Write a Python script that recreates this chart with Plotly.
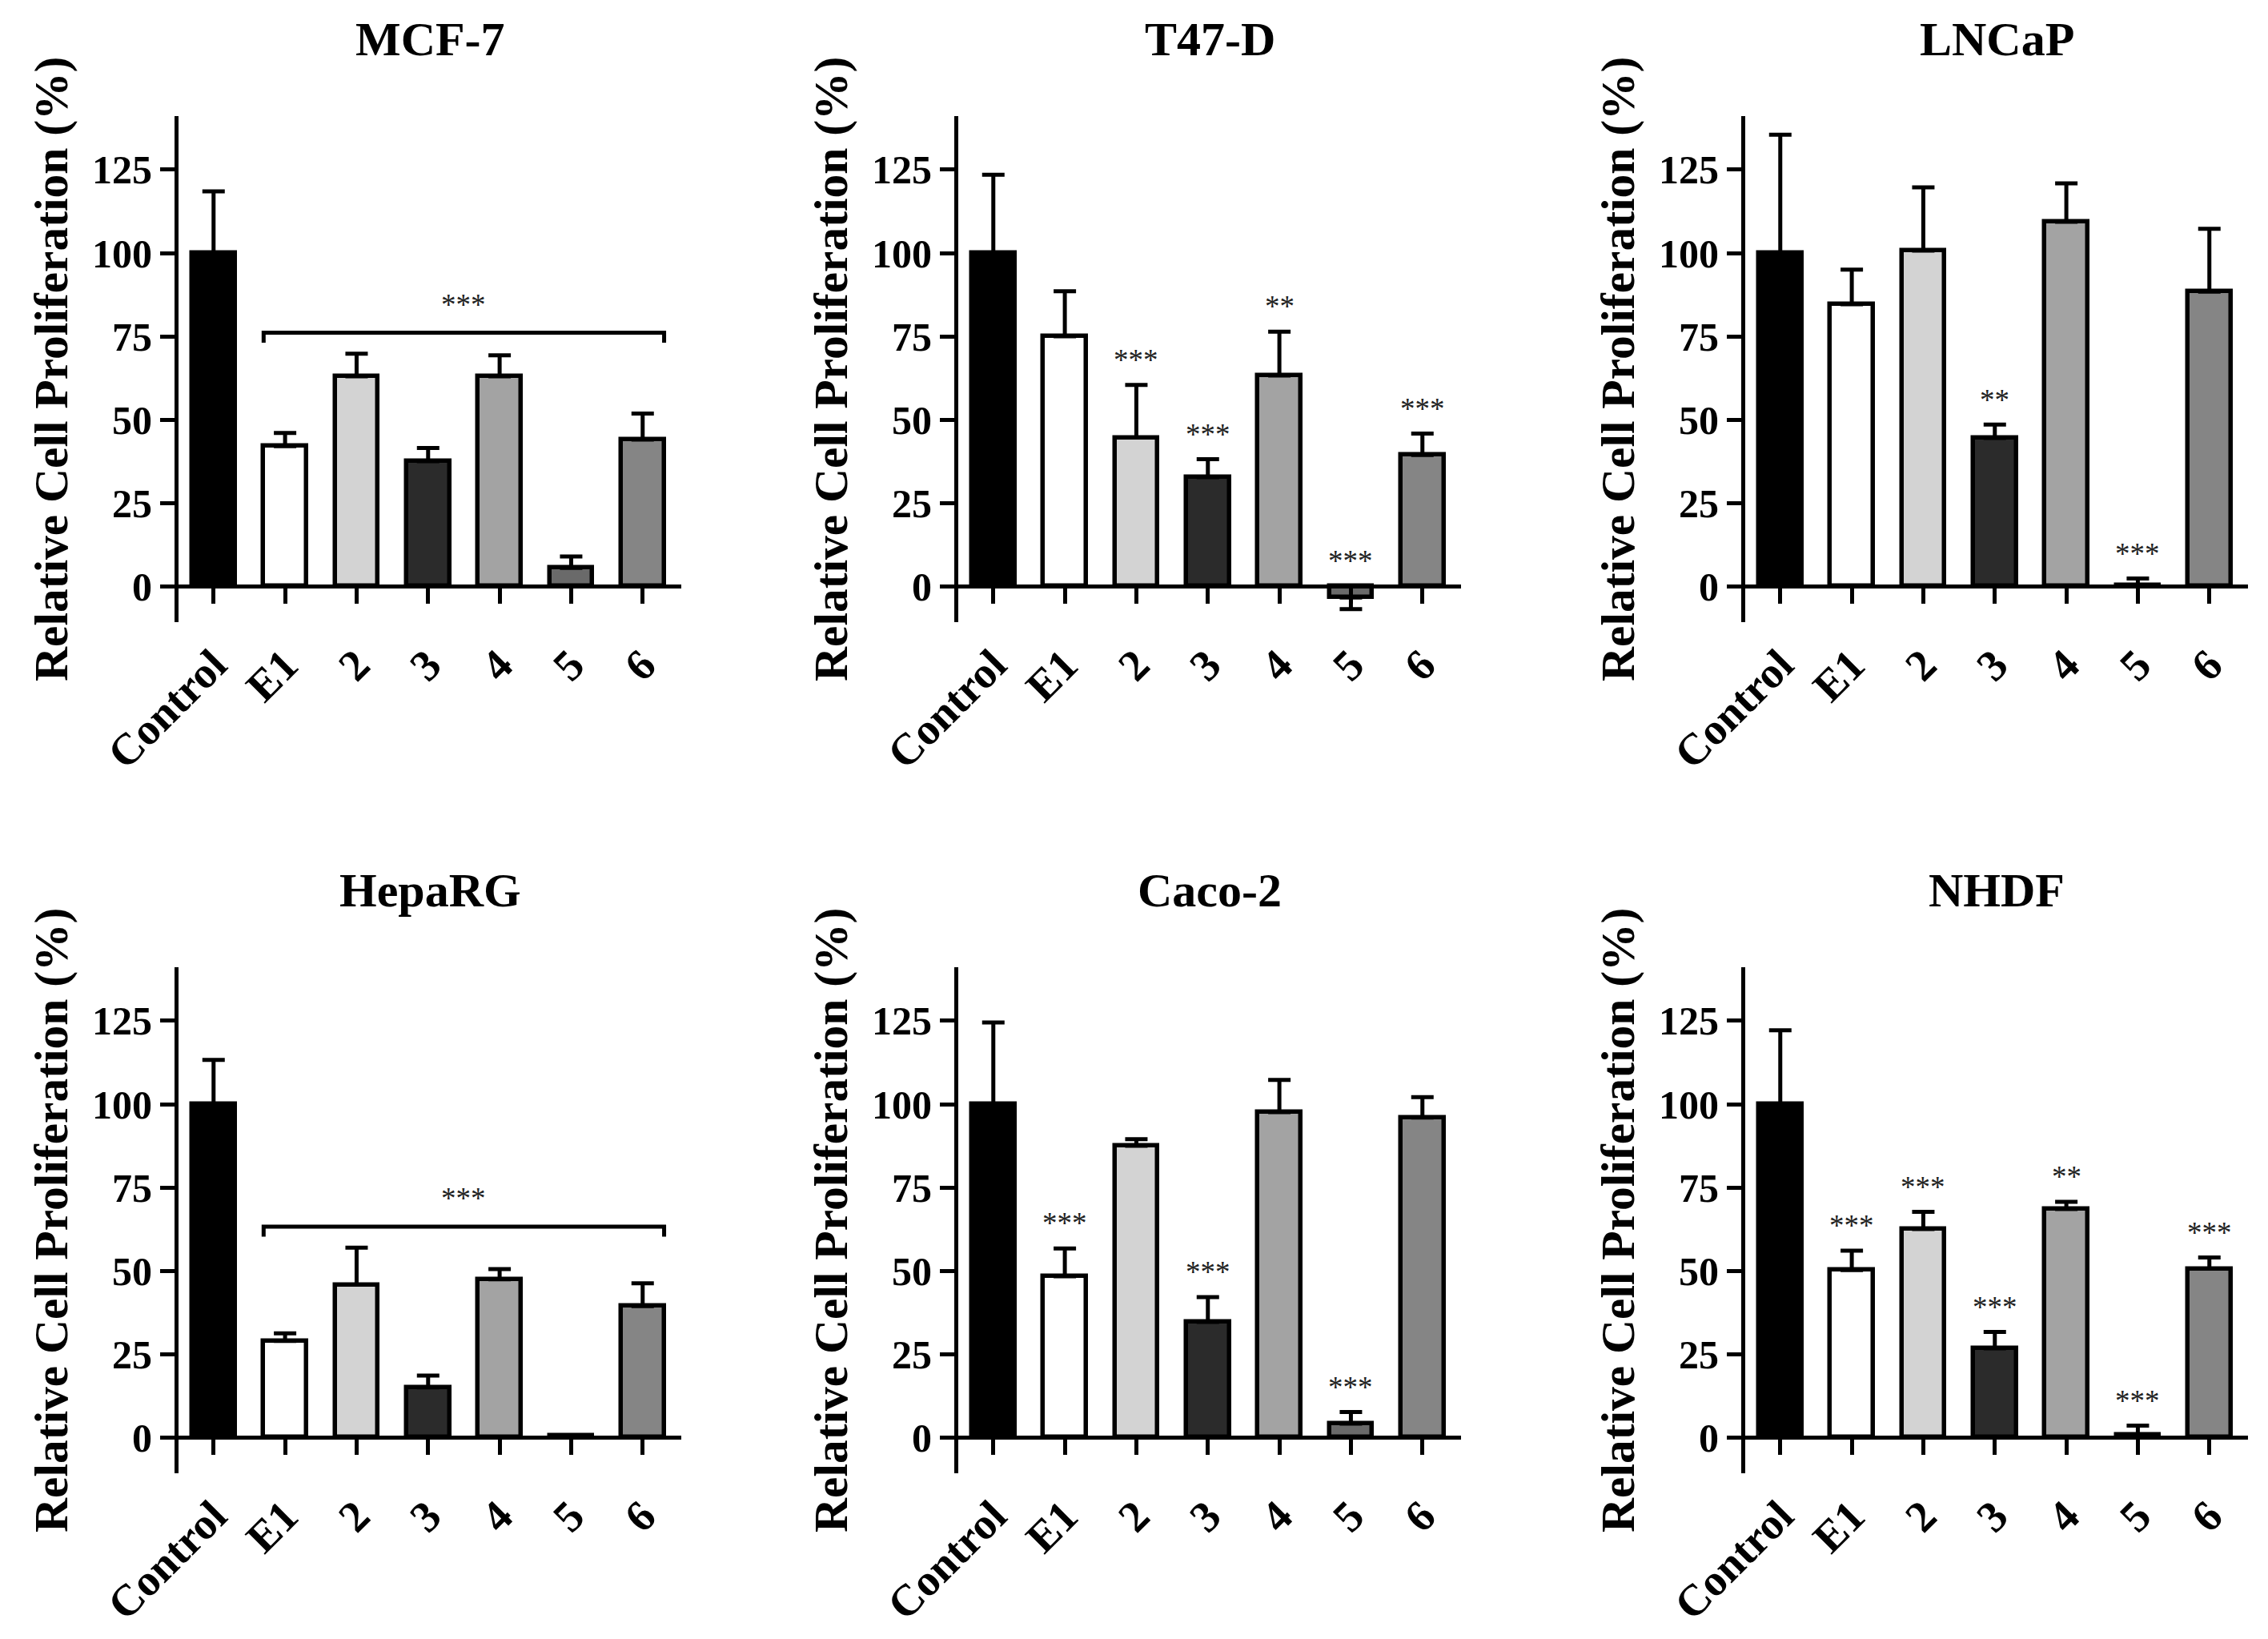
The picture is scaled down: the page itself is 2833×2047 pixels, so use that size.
import plotly.graph_objects as go

# ---------------- data ----------------
categories = ["Control", "E1", "2", "3", "4", "5", "6"]
panel_titles = ["MCF-7", "T47-D", "LNCaP", "HepaRG", "Caco-2", "NHDF"]
y_ticks = [0, 25, 50, 75, 100, 125]

mcf7_mean = [100, 42.0, 63.0, 37.5, 63.0, 5.5, 44.0]
mcf7_sd = [18.5, 4.0, 6.8, 4.0, 6.3, 3.4, 7.8]
mcf7_sig = ["", "", "", "", "", "", ""]
mcf7_bracket = ("E1", "6", "***")

t47d_mean = [100, 75.0, 44.6, 32.7, 63.2, -3.4, 39.4]
t47d_sd = [23.5, 13.5, 15.8, 5.4, 13.2, 3.5, 6.4]
t47d_sig = ["", "", "***", "***", "**", "***", "***"]

lncap_mean = [100, 84.6, 100.7, 44.5, 109.4, 0.3, 88.4]
lncap_sd = [35.5, 10.4, 19.0, 4.0, 11.5, 2.0, 18.9]
lncap_sig = ["", "", "", "**", "", "***", ""]

heparg_mean = [100, 28.9, 45.8, 15.0, 47.4, 0.5, 39.4]
heparg_sd = [13.3, 2.3, 11.1, 3.5, 3.1, 0.0, 6.8]
heparg_sig = ["", "", "", "", "", "", ""]
heparg_bracket = ("E1", "6", "***")

caco2_mean = [100, 48.3, 87.5, 34.6, 97.6, 4.1, 96.0]
caco2_sd = [24.5, 8.4, 2.0, 7.5, 9.7, 3.5, 6.1]
caco2_sig = ["", "***", "", "***", "", "***", ""]

nhdf_mean = [100, 50.2, 62.5, 26.7, 68.5, 0.8, 50.6]
nhdf_sd = [22.2, 5.8, 5.2, 4.9, 2.2, 2.7, 3.4]
nhdf_sig = ["", "***", "***", "***", "**", "***", "***"]

bar_colors = ["#000000", "#ffffff", "#d3d3d3", "#2b2b2b", "#a3a3a3", "#6a6a6a", "#858585"]

panels = [
    (panel_titles[0], mcf7_mean, mcf7_sd, mcf7_sig, mcf7_bracket),
    (panel_titles[1], t47d_mean, t47d_sd, t47d_sig, None),
    (panel_titles[2], lncap_mean, lncap_sd, lncap_sig, None),
    (panel_titles[3], heparg_mean, heparg_sd, heparg_sig, heparg_bracket),
    (panel_titles[4], caco2_mean, caco2_sd, caco2_sig, None),
    (panel_titles[5], nhdf_mean, nhdf_sd, nhdf_sig, None),
]

# ---------------- layout geometry ----------------
W, H = 2833, 2047
col_left = [223, 1197, 2180]
row_top = [145, 1208]
plot_w, plot_h = 628, 632
Y_RANGE = [-10.8, 141.1]
X_RANGE = [-0.49, 6.54]
BAR_W = 0.6

FONT = "Liberation Serif"
ytick_font = dict(family=FONT, size=50, color="black", weight="bold")
xtick_font = dict(family=FONT, size=55, color="black", weight="bold")

fig = go.Figure()
annotations = []
layout_axes = {}

for i, (title, means, sds, sig, bracket) in enumerate(panels):
    r, c = divmod(i, 3)
    n = i + 1
    xa = "x" if n == 1 else f"x{n}"
    ya = "y" if n == 1 else f"y{n}"
    xkey = "xaxis" if n == 1 else f"xaxis{n}"
    ykey = "yaxis" if n == 1 else f"yaxis{n}"

    left = col_left[c]
    top = row_top[r]
    x0, x1 = left / W, (left + plot_w) / W
    y1 = 1 - top / H
    y0 = 1 - (top + plot_h) / H
    zero_pos = y0 + (0 - Y_RANGE[0]) / (Y_RANGE[1] - Y_RANGE[0]) * (y1 - y0)

    xs = list(range(len(categories)))
    plus = [s if m >= 0 else 0 for m, s in zip(means, sds)]
    minus = [0 if m >= 0 else s for m, s in zip(means, sds)]

    fig.add_trace(go.Bar(
        x=xs, y=means, width=BAR_W,
        marker=dict(color=bar_colors, line=dict(color="black", width=5.5)),
        error_y=dict(type="data", symmetric=False, array=plus, arrayminus=minus,
                     color="black", thickness=5, width=14),
        xaxis=xa, yaxis=ya, showlegend=False, hoverinfo="skip",
    ))

    tops = [max(m + p, 0) for m, p in zip(means, plus)]

    # significance stars above individual bars
    for k, s in enumerate(sig):
        if s:
            annotations.append(dict(
                x=xs[k], y=tops[k] + 7.5, xref=xa, yref=ya, text=s, showarrow=False,
                font=dict(family=FONT, size=37, color="#222222"),
                xanchor="center", yanchor="middle",
            ))

    # bracket over a group
    if bracket:
        a, b, s = bracket
        ia, ib = categories.index(a), categories.index(b)
        by = max(tops[ia:ib + 1]) + 6.3
        bx = [ia - BAR_W / 2, ia - BAR_W / 2, ib + BAR_W / 2, ib + BAR_W / 2]
        fig.add_trace(go.Scatter(
            x=bx, y=[by - 3, by, by, by - 3], mode="lines",
            line=dict(color="black", width=5), xaxis=xa, yaxis=ya,
            showlegend=False, hoverinfo="skip",
        ))
        annotations.append(dict(
            x=(ia + ib) / 2, y=by + 8.5, xref=xa, yref=ya, text=s, showarrow=False,
            font=dict(family=FONT, size=37, color="#222222"),
            xanchor="center", yanchor="middle",
        ))

    layout_axes[xkey] = dict(
        domain=[x0, x1], range=X_RANGE, anchor="free", position=zero_pos,
        automargin=False,
        showline=True, linecolor="black", linewidth=5,
        ticks="outside", ticklen=19, tickwidth=5, tickcolor="black",
        tickmode="array", tickvals=xs, ticktext=categories, tickangle=-45,
        ticklabelstandoff=22,
        tickfont=xtick_font, showgrid=False, zeroline=False, fixedrange=True,
    )
    layout_axes[ykey] = dict(
        domain=[y0, y1], range=Y_RANGE, anchor=xa,
        automargin=False,
        showline=True, linecolor="black", linewidth=5,
        ticks="outside", ticklen=18, tickwidth=5, tickcolor="black",
        tickmode="array", tickvals=y_ticks,
        tickfont=ytick_font, showgrid=False, zeroline=False, fixedrange=True,
    )

    # panel title
    annotations.append(dict(
        x=(left + plot_w / 2) / W, y=1 - (top - 96) / H, xref="paper", yref="paper",
        text=title, showarrow=False, xanchor="center", yanchor="middle",
        font=dict(family=FONT, size=60, color="black", weight="bold"),
    ))
    # y axis title
    annotations.append(dict(
        x=(left - 159) / W, y=(y0 + y1) / 2, xref="paper", yref="paper",
        text="Relative Cell Proliferation (%)", showarrow=False, textangle=-90,
        xanchor="center", yanchor="middle",
        font=dict(family=FONT, size=59.5, color="black", weight="bold"),
    ))

fig.update_layout(
    template="none",
    width=W, height=H, margin=dict(l=0, r=0, t=0, b=0, autoexpand=False),
    paper_bgcolor="white", plot_bgcolor="white",
    annotations=annotations, bargap=0, showlegend=False,
    **layout_axes,
)

fig.write_html("out.html", config={"displayModeBar": False},
               post_script="document.body.style.margin='0px';")
